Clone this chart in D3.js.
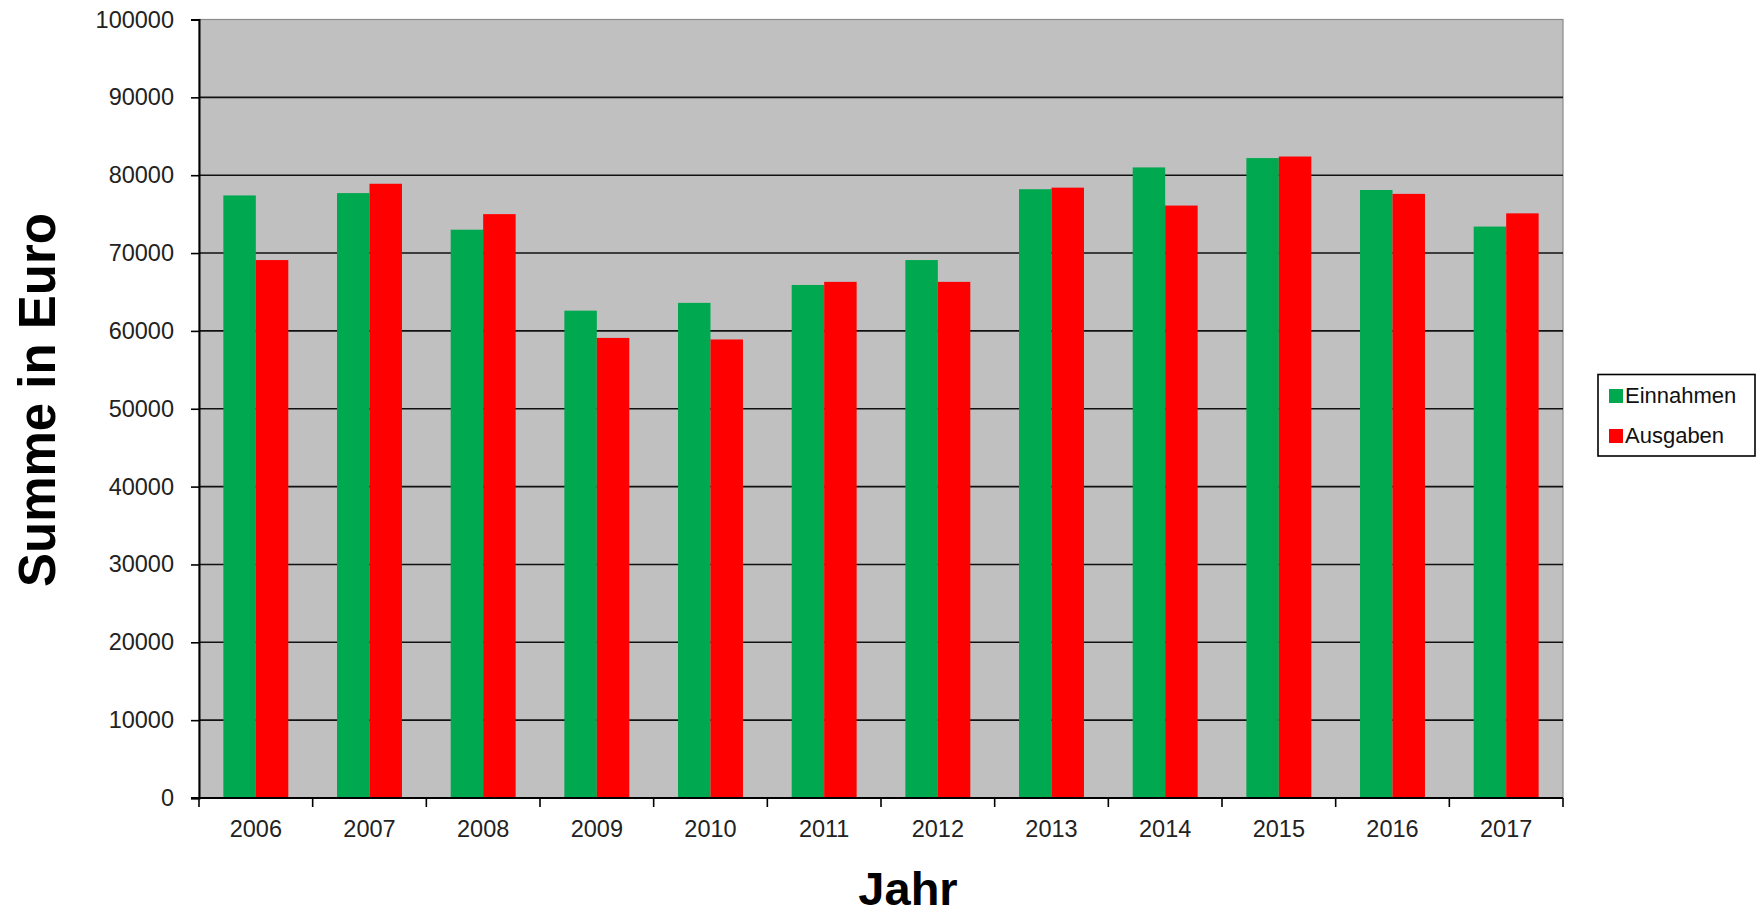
<!DOCTYPE html>
<html>
<head>
<meta charset="utf-8">
<script src="https://cdn.jsdelivr.net/npm/d3@7"></script>
<style>
  body { margin: 0; background: #fff; }
  text { font-family: "Liberation Sans", Arial, sans-serif; }
</style>
</head>
<body>
<div id="chart"></div>
<script>
// Einnahmen / Ausgaben per year

const years = ["2006", "2007", "2008", "2009", "2010", "2011", "2012", "2013", "2014", "2015", "2016", "2017"];
const einnahmen = [77400, 77700, 73000, 62600, 63600, 65900, 69100, 78200, 81000, 82200, 78100, 73400];
const ausgaben  = [69100, 78900, 75000, 59100, 58900, 66300, 66300, 78400, 76100, 82400, 77600, 75100];
const seriesNames = ["Einnahmen", "Ausgaben"];
const seriesColors = ["#00a84f", "#ff0000"];
const yTicks = [0, 10000, 20000, 30000, 40000, 50000, 60000, 70000, 80000, 90000, 100000];

const width = 1762, height = 915;
const plot = { left: 199, right: 1563, top: 19.5, bottom: 798 };

const svg = d3.select("#chart")
  .append("svg")
  .attr("width", width)
  .attr("height", height);

const x0 = d3.scaleBand().domain(years).range([plot.left, plot.right]).padding(0);
const x1 = d3.scaleBand().domain(seriesNames).range([0, x0.bandwidth()])
  .paddingInner(0).paddingOuter(0.75);
const y = d3.scaleLinear().domain([0, 100000]).range([plot.bottom, plot.top]);
const color = d3.scaleOrdinal(seriesNames, seriesColors);

// plot area
svg.append("rect")
  .attr("x", plot.left).attr("y", plot.top)
  .attr("width", plot.right - plot.left).attr("height", plot.bottom - plot.top)
  .attr("fill", "#c0c0c0")
  .attr("stroke", "#8a8a8a")
  .attr("stroke-width", 1.2);

// gridlines
svg.append("g")
  .selectAll("line")
  .data(yTicks.filter(d => d > 0 && d < 100000))
  .join("line")
    .attr("x1", plot.left).attr("x2", plot.right)
    .attr("y1", d => y(d)).attr("y2", d => y(d))
    .attr("stroke", "#111")
    .attr("stroke-width", 1.6);

// bars
const rows = years.map((yr, i) => ({ year: yr, values: [einnahmen[i], ausgaben[i]] }));
svg.append("g")
  .selectAll("g")
  .data(rows)
  .join("g")
    .attr("transform", d => `translate(${x0(d.year)},0)`)
  .selectAll("rect")
  .data(d => d.values.map((v, k) => ({ key: seriesNames[k], value: v })))
  .join("rect")
    .attr("x", d => x1(d.key))
    .attr("width", x1.bandwidth())
    .attr("y", d => y(d.value))
    .attr("height", d => y(0) - y(d.value))
    .attr("fill", d => color(d.key));

// y axis
const yAxis = svg.append("g")
  .attr("transform", `translate(${plot.left},0)`)
  .call(d3.axisLeft(y).tickValues(yTicks).tickFormat(d3.format("d")).tickSize(8).tickPadding(17));
yAxis.select(".domain").attr("stroke", "#000").attr("stroke-width", 2);
yAxis.selectAll(".tick line").attr("stroke", "#000").attr("stroke-width", 1.6);
yAxis.selectAll("text").attr("font-size", 23.5).attr("fill", "#222")
  .attr("font-family", "'Liberation Sans', Arial, sans-serif");

// x axis: ticks at category boundaries, labels centered
const xAxis = svg.append("g").attr("transform", `translate(0,${plot.bottom})`);
xAxis.append("line")
  .attr("x1", plot.left - 8).attr("x2", plot.right)
  .attr("stroke", "#000").attr("stroke-width", 2);
const bounds = years.map(d => x0(d)).concat([plot.right]);
xAxis.selectAll("line.tk")
  .data(bounds)
  .join("line")
    .attr("class", "tk")
    .attr("x1", d => d).attr("x2", d => d)
    .attr("y1", 0).attr("y2", 9)
    .attr("stroke", "#000").attr("stroke-width", 1.6);
xAxis.selectAll("text")
  .data(years)
  .join("text")
    .attr("x", d => x0(d) + x0.bandwidth() / 2)
    .attr("y", 39)
    .attr("text-anchor", "middle")
    .attr("font-size", 23.5)
    .attr("fill", "#222")
    .text(d => d);

// axis titles
svg.append("text")
  .attr("transform", "translate(55,400) rotate(-90)")
  .attr("text-anchor", "middle")
  .attr("font-size", 51)
  .attr("font-weight", "bold")
  .attr("fill", "#000")
  .text("Summe in Euro");

svg.append("text")
  .attr("x", 908).attr("y", 905)
  .attr("text-anchor", "middle")
  .attr("font-size", 47)
  .attr("font-weight", "bold")
  .attr("fill", "#000")
  .text("Jahr");

// legend
const legend = svg.append("g");
legend.append("rect")
  .attr("x", 1598).attr("y", 374.5)
  .attr("width", 157).attr("height", 81.5)
  .attr("fill", "#fff")
  .attr("stroke", "#000").attr("stroke-width", 1.6);
const items = legend.selectAll("g")
  .data(seriesNames)
  .join("g")
    .attr("transform", (d, i) => `translate(1609,${403 + i * 40})`);
items.append("rect")
  .attr("x", 0).attr("y", -14)
  .attr("width", 14).attr("height", 14)
  .attr("fill", d => color(d));
items.append("text")
  .attr("x", 16).attr("y", 0)
  .attr("font-size", 22)
  .attr("fill", "#111")
  .text(d => d);
</script>
</body>
</html>
